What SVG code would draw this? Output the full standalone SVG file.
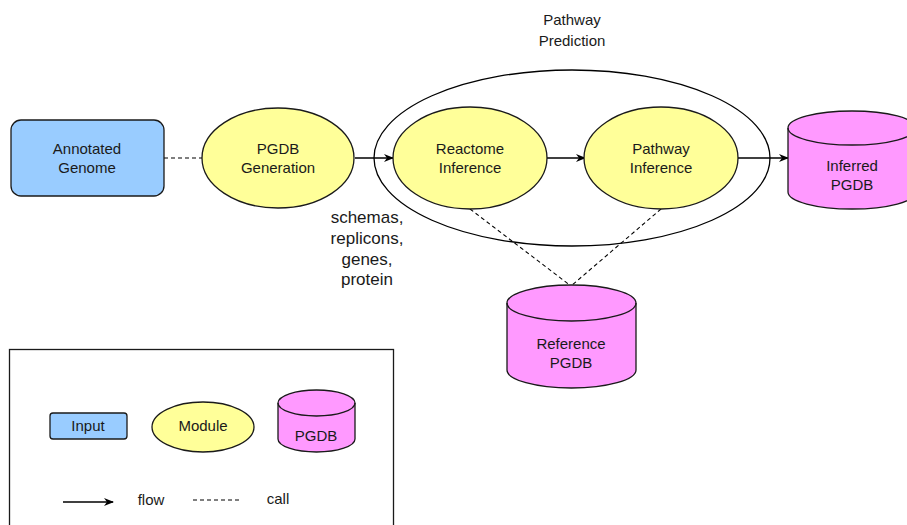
<svg xmlns="http://www.w3.org/2000/svg" width="907" height="525" viewBox="0 0 907 525">
<style>
text{font-family:"Liberation Sans",Arial,sans-serif;font-size:15px;fill:#1a1a1a;text-anchor:middle}
.in{fill:#99CCFF;stroke:#1a1a1a;stroke-width:1.3}
.mod{fill:#FFFF99;stroke:#1a1a1a;stroke-width:1.3}
.db{fill:#FF99FF;stroke:#1a1a1a;stroke-width:1.3}
.flow{stroke:#000;stroke-width:1.3;fill:none;marker-end:url(#ah)}
.call{stroke:#000;stroke-width:1.1;fill:none;stroke-dasharray:4 3}
.big{font-size:17px}
</style>
<defs>
<marker id="ah" viewBox="0 0 10 10" refX="9" refY="5" markerWidth="10" markerHeight="10" markerUnits="userSpaceOnUse" orient="auto">
<path d="M0,1 L10,5 L0,9 L3,5 Z" fill="#000"/>
</marker>
</defs>
<rect width="907" height="525" fill="#fff"/>

<g id="pathway-prediction">
<ellipse cx="572" cy="158" rx="198" ry="88" fill="none" stroke="#000" stroke-width="1.3"/>
<text x="572" y="25">Pathway</text>
<text x="572" y="46">Prediction</text>
</g>

<g id="connectors">
<line class="call" x1="164" y1="158" x2="202" y2="158"/>
<line class="flow" x1="355" y1="158" x2="393" y2="158"/>
<line class="flow" x1="547" y1="158" x2="585" y2="158"/>
<line class="flow" x1="738" y1="158" x2="788" y2="158"/>
<line class="call" x1="470" y1="209" x2="571" y2="286"/>
<line class="call" x1="661" y1="209" x2="571" y2="286"/>
</g>

<g id="annotated-genome">
<rect class="in" x="11" y="120" width="153" height="76" rx="10"/>
<text x="87" y="154">Annotated</text>
<text x="87" y="173">Genome</text>
</g>

<g id="pgdb-generation">
<ellipse class="mod" cx="278" cy="158" rx="76" ry="50"/>
<text x="278" y="154">PGDB</text>
<text x="278" y="173">Generation</text>
</g>

<g id="edge-label">
<text class="big" x="367" y="223">schemas,</text>
<text class="big" x="367" y="244">replicons,</text>
<text class="big" x="367" y="265">genes,</text>
<text class="big" x="367" y="285">protein</text>
</g>

<g id="reactome-inference">
<ellipse class="mod" cx="470" cy="158" rx="77" ry="51"/>
<text x="470" y="154">Reactome</text>
<text x="470" y="173">Inference</text>
</g>

<g id="pathway-inference">
<ellipse class="mod" cx="661" cy="158" rx="77" ry="51"/>
<text x="661" y="154">Pathway</text>
<text x="661" y="173">Inference</text>
</g>

<g id="inferred-pgdb">
<path class="db" d="M788,128 A64,17 0 0 1 916,128 L916,192 A64,17 0 0 1 788,192 Z"/>
<path d="M788,128 A64,17 0 0 0 916,128" fill="none" stroke="#1a1a1a" stroke-width="1.3"/>
<text x="852" y="171">Inferred</text>
<text x="852" y="190">PGDB</text>
</g>

<g id="reference-pgdb">
<path class="db" d="M507,303 A64.5,18 0 0 1 636,303 L636,370 A64.5,18 0 0 1 507,370 Z"/>
<path d="M507,303 A64.5,18 0 0 0 636,303" fill="none" stroke="#1a1a1a" stroke-width="1.3"/>
<text x="571" y="349">Reference</text>
<text x="571" y="368">PGDB</text>
</g>

<g id="legend">
<rect x="9.5" y="349.5" width="384" height="190" fill="none" stroke="#1a1a1a" stroke-width="1.3"/>
<rect class="in" x="50" y="413" width="77" height="26" rx="3"/>
<text x="88" y="431">Input</text>
<ellipse class="mod" cx="203" cy="427" rx="51" ry="25"/>
<text x="203" y="431">Module</text>
<path class="db" d="M278,403 A38.5,13 0 0 1 355,403 L355,439 A38.5,13 0 0 1 278,439 Z"/>
<path d="M278,403 A38.5,13 0 0 0 355,403" fill="none" stroke="#1a1a1a" stroke-width="1.3"/>
<text x="316" y="441">PGDB</text>
<line class="flow" x1="63" y1="502" x2="113" y2="502"/>
<text x="151" y="505">flow</text>
<line class="call" x1="193" y1="500" x2="242" y2="500"/>
<text x="278" y="504">call</text>
</g>
</svg>
